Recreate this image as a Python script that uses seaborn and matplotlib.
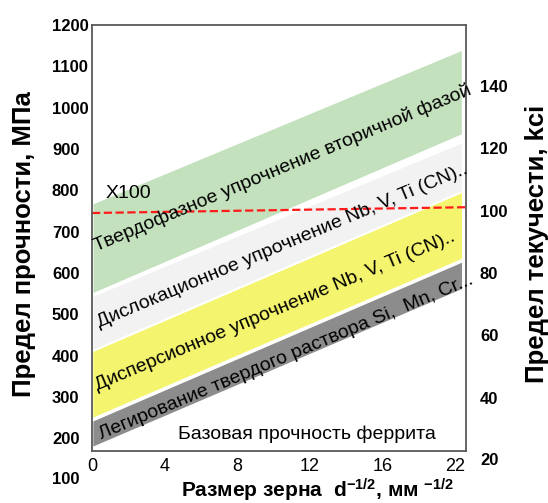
import numpy as np
import pandas as pd
import matplotlib
matplotlib.use("Agg")
import matplotlib.pyplot as plt
import matplotlib.transforms as mtransforms
import seaborn as sns

# ширина полос по оси зерна
band_x = [0, 20.4]

# границы полос упрочнения (МПа): нижняя / верхняя кромка слева и справа
gray_low = [178, 561]
gray_high = [243, 629]
yellow_low = [248, 634]
yellow_high = [412, 798]
light_low = [412, 798]
light_high = [545, 918]
green_low = [549, 935]
green_high = [769, 1142]

# пунктир X100
x100_x = [0, 20.6]
x100_y = [745, 759]

left_ticks = [200, 300, 400, 500, 600, 700, 800, 900, 1000, 1100, 1200]
right_ticks = [40, 60, 80, 100, 120, 140]
x_ticks = [0, 4, 8, 12, 16, 20]
x_tick_labels = ["0", "4", "8", "12", "16", "22"]

band_labels = [
    "Твердофазное упрочнение вторичной фазой",
    "Дислокационное упрочнение Nb, V, Ti (CN)..",
    "Дисперсионное упрочнение Nb, V, Ti (CN)..",
    "Легирование твердого раствора Si,  Mn, Cr...",
]
band_label_pos = [(10.5, 853), (10.5, 665), (10.1, 508), (10.7, 395)]

sns.set_theme(style="white")
plt.rcParams["font.family"] = ["Liberation Sans", "DejaVu Sans"]
plt.rcParams["mathtext.fontset"] = "custom"
plt.rcParams["mathtext.rm"] = "Liberation Sans"
plt.rcParams["mathtext.bf"] = "Liberation Sans:bold"
for key in ["text.color", "axes.labelcolor", "xtick.color", "ytick.color"]:
    plt.rcParams[key] = "black"

fig = plt.figure(figsize=(5.48, 5.03), dpi=100)
ax = fig.add_axes([92 / 548, 1 - 451 / 503, 374 / 548, 426 / 503])

# полосы
ax.fill_between(band_x, gray_low, gray_high, color="#8c8c8c", edgecolor="white", linewidth=1.2)
ax.fill_between(band_x, yellow_low, yellow_high, color="#f4f46e", edgecolor="white", linewidth=1.2)
ax.fill_between(band_x, light_low, light_high, color="#f2f2f2", edgecolor="white", linewidth=1.5)
ax.fill_between(band_x, green_low, green_high, color="#c4e1bd", edgecolor="white", linewidth=1.5)

df_line = pd.DataFrame({"x": x100_x, "y": x100_y})
sns.lineplot(data=df_line, x="x", y="y", ax=ax, color="#ff1a1a", linestyle="--",
             linewidth=1.6, dashes=(4, 2))
ax.text(0.77, 793, "X100", fontsize=14, ha="left", va="center")

for txt, (tx, ty) in zip(band_labels, band_label_pos):
    ax.text(tx, ty, txt, fontsize=14, rotation=22.7, rotation_mode="anchor",
            ha="center", va="center")

ax.text(11.85, 210, "Базовая прочность феррита", fontsize=14, ha="center", va="center")

ax.set_xlim(0, 20.6)
ax.set_ylim(169, 1195)
ax.set_xticks(x_ticks)
ax.set_xticklabels(x_tick_labels, fontsize=13)
ax.set_yticks(left_ticks)
ax.set_yticklabels([str(t) for t in left_ticks], fontsize=12, fontweight="bold")
for lab in ax.get_yticklabels():
    lab.set_horizontalalignment("left")
ax.tick_params(axis="y", length=0, pad=28.8)
ax.tick_params(axis="x", length=0, pad=5)
ax.set_xlabel("")
ax.set_ylabel("")

# подпись 100 ниже рамки
trans = mtransforms.blended_transform_factory(ax.transAxes, ax.transData)
ax.text(-40 / 374, 100, "100", transform=trans, fontsize=12, fontweight="bold",
        ha="left", va="center", clip_on=False)

for sp in ax.spines.values():
    sp.set_color("#595959")
    sp.set_linewidth(1.3)

ax2 = ax.twinx()
ax2.set_ylim(22.9, 159.6)
ax2.set_yticks(right_ticks)
ax2.set_yticklabels([str(t) for t in right_ticks], fontsize=12, fontweight="bold")
ax2.tick_params(axis="y", length=0, pad=10)
for sp in ax2.spines.values():
    sp.set_visible(False)
trans2 = mtransforms.blended_transform_factory(ax2.transAxes, ax2.transData)
ax2.text((480 - 92) / 374, 20, "20", transform=trans2, fontsize=12, fontweight="bold",
         ha="left", va="center", clip_on=False)

fig.text(24 / 548, 1 - 244 / 503, "Предел прочности, МПа", rotation=90, fontsize=18.5,
         fontweight="bold", ha="center", va="center")
fig.text(537 / 548, 1 - 244 / 503, "Предел текучести, kci", rotation=90, fontsize=18.5,
         fontweight="bold", ha="center", va="center")
fig.text(318 / 548, 1 - 490 / 503,
         r"Размер зерна  $\mathbf{d^{-1/2}}$, мм $\mathbf{^{-1/2}}$",
         fontsize=15, fontweight="bold", ha="center", va="center")

fig.savefig("out.png", dpi=100)
